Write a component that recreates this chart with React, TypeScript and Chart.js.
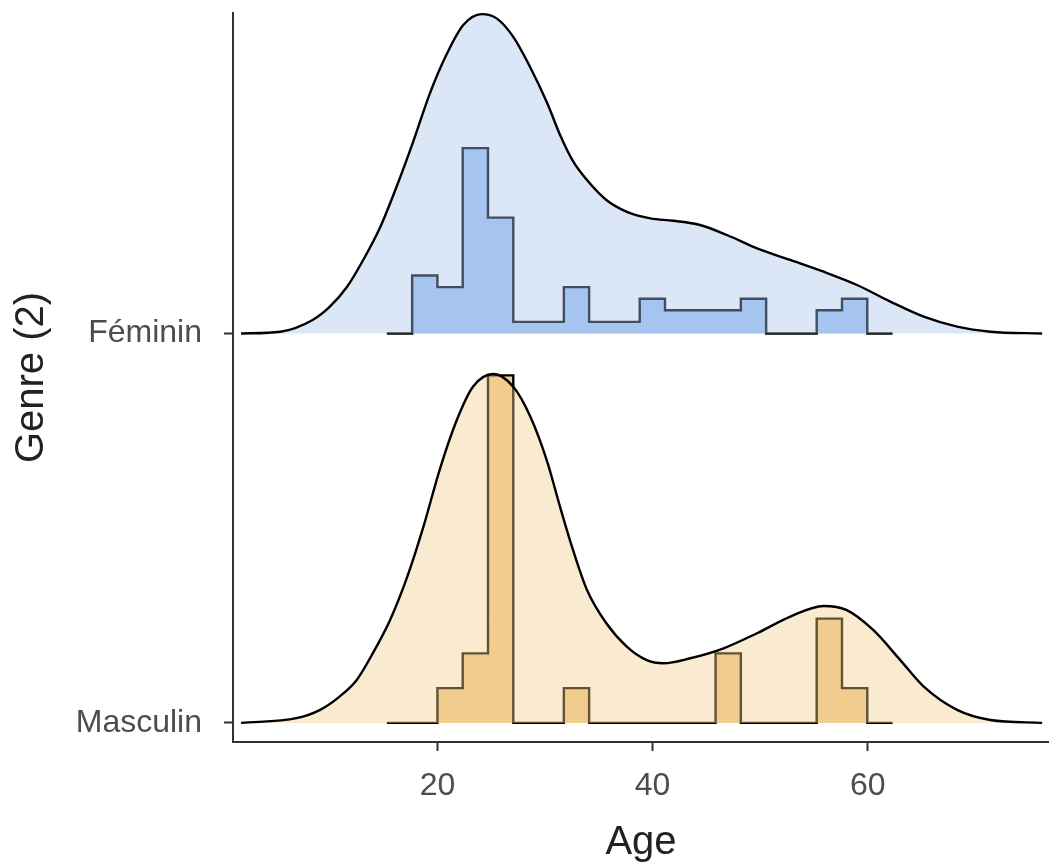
import React, { useEffect, useRef } from 'react';
import { Chart, registerables } from 'chart.js';

Chart.register(...registerables);

// Categories on the y axis (position 1 = Masculin, 2 = Féminin)
const groups = ['Masculin', 'Féminin'];

// Histogram bin edges (Age) shared by both groups
const binEdges = [15.3, 17.65, 20.0, 22.35, 24.7, 27.05, 29.4, 31.75, 34.1, 36.45, 38.8, 41.15, 43.5, 45.85, 48.2, 50.55, 52.9, 55.25, 57.6, 59.95, 62.3];

// Counts per bin
const femCounts = [0, 5, 4, 16, 10, 1, 1, 4, 1, 1, 3, 2, 2, 2, 3, 0, 0, 2, 3, 0];
const mascCounts = [0, 0, 1, 2, 10, 0, 0, 1, 0, 0, 0, 0, 0, 2, 0, 0, 0, 3, 1, 0];

// Kernel density estimates (Age, density)
const femDensX = [1.75, 5.4, 8.4, 10.0, 11.6, 13.1, 14.7, 16.2, 17.8, 19.3, 20.9, 22.4, 24.1, 25.5, 27.05, 28.6, 30.2, 31.4, 32.6, 33.9, 35.7, 37.6, 39.8, 41.9, 44.4, 46.9, 49.7, 52.8, 55.9, 59.0, 62.1, 65.2, 68.3, 71.4, 76.2];
const femDensY = [0, 0.0011, 0.0083, 0.0164, 0.0286, 0.045, 0.0654, 0.0898, 0.1184, 0.147, 0.1715, 0.1888, 0.1955, 0.1929, 0.1816, 0.1633, 0.1411, 0.1215, 0.1055, 0.0939, 0.0817, 0.0745, 0.0705, 0.069, 0.0664, 0.0603, 0.0521, 0.045, 0.0378, 0.0297, 0.0195, 0.0103, 0.0042, 0.0011, 0];

const mascDensX = [1.75, 6.9, 9.1, 10.9, 12.5, 14.0, 15.6, 17.2, 18.7, 20.2, 21.8, 23.3, 25.2, 27.05, 28.6, 30.2, 31.4, 32.6, 33.9, 35.7, 37.6, 39.4, 41.0, 43.5, 46.6, 49.7, 52.8, 55.9, 58.0, 60.5, 63.0, 65.2, 68.3, 71.4, 76.2];
const mascDensY = [0, 0.0029, 0.008, 0.0161, 0.0263, 0.0427, 0.063, 0.0895, 0.1201, 0.1548, 0.1854, 0.2058, 0.2136, 0.2058, 0.188, 0.16, 0.1322, 0.1059, 0.0814, 0.061, 0.0467, 0.0386, 0.0365, 0.0396, 0.0457, 0.0549, 0.0651, 0.0716, 0.0692, 0.0569, 0.0386, 0.0222, 0.008, 0.0018, 0];

const xTicks = [20, 40, 60];
const ridgeScale = 4.195; // y units per unit of density

const FONT = "'Liberation Sans', Arial, Helvetica, sans-serif";

function histPoints(counts: number[], base: number) {
  const n = counts.reduce((a, b) => a + b, 0);
  const pts = counts.map((c, i) => ({
    x: binEdges[i],
    y: base + (c / (n * (binEdges[i + 1] - binEdges[i]))) * ridgeScale,
  }));
  pts.push({ x: binEdges[binEdges.length - 1], y: base });
  return pts;
}

function densPoints(xs: number[], ds: number[], base: number) {
  return xs.map((x, i) => ({ x, y: base + ds[i] * ridgeScale }));
}

export default function App() {
  const ref = useRef<HTMLCanvasElement | null>(null);

  useEffect(() => {
    if (!ref.current) return;
    const densCommon = {
      cubicInterpolationMode: 'monotone',
      borderColor: '#000000',
      borderWidth: 2.4,
      pointRadius: 0,
      order: 1,
      clip: false,
    };
    const histCommon = {
      stepped: 'before',
      borderColor: '#000000',
      borderWidth: 2.4,
      borderJoinStyle: 'miter',
      borderCapStyle: 'butt',
      pointRadius: 0,
      order: 2,
      clip: false,
    };
    const chart = new Chart(ref.current, {
      type: 'line',
      data: {
        datasets: [
          {
            ...densCommon,
            data: densPoints(femDensX, femDensY, 2),
            fill: { value: 2 },
            backgroundColor: 'rgba(165,192,235,0.4)',
          } as any,
          {
            ...histCommon,
            data: histPoints(femCounts, 2),
            fill: { value: 2 },
            backgroundColor: '#a7c6f3',
          } as any,
          {
            ...densCommon,
            data: densPoints(mascDensX, mascDensY, 1),
            fill: { value: 1 },
            backgroundColor: 'rgba(240,202,138,0.4)',
          } as any,
          {
            ...histCommon,
            data: histPoints(mascCounts, 1),
            fill: { value: 1 },
            backgroundColor: '#f0cf8e',
          } as any,
        ],
      },
      options: {
        animation: false,
        responsive: false,
        devicePixelRatio: 1,
        layout: { padding: { top: 13, left: 0, right: 0, bottom: 0 } },
        plugins: { legend: { display: false }, tooltip: { enabled: false } },
        scales: {
          x: {
            type: 'linear',
            min: 1.0,
            max: 76.84,
            afterBuildTicks: (ax: any) => {
              ax.ticks = xTicks.map((v) => ({ value: v }));
            },
            afterFit: (ax: any) => {
              ax.height = 126;
              ax.paddingLeft = 0;
              ax.paddingRight = 0;
            },
            grid: {
              display: true,
              drawOnChartArea: false,
              drawTicks: true,
              tickLength: 9,
              tickColor: '#333333',
              tickWidth: 2,
              color: '#333333',
            },
            border: { display: true, color: '#333333', width: 2 },
            ticks: {
              color: '#4d4d4d',
              font: { size: 32, family: FONT },
              padding: 16,
              maxRotation: 0,
              autoSkip: false,
              callback: (v: any) => String(v),
            },
            title: {
              display: true,
              text: 'Age',
              color: '#222222',
              font: { size: 40, family: FONT },
              padding: { top: 0, bottom: 1 },
            },
          },
          y: {
            type: 'linear',
            min: 0.951,
            max: 2.823,
            afterBuildTicks: (ax: any) => {
              ax.ticks = [{ value: 1 }, { value: 2 }];
            },
            afterFit: (ax: any) => {
              ax.width = 233;
              ax.paddingTop = 0;
              ax.paddingBottom = 0;
            },
            grid: {
              display: true,
              drawOnChartArea: false,
              drawTicks: true,
              tickLength: 9,
              tickColor: '#333333',
              tickWidth: 2,
              color: '#333333',
            },
            border: { display: true, color: '#333333', width: 2 },
            ticks: {
              color: '#4d4d4d',
              font: { size: 32, family: FONT },
              padding: 22,
              autoSkip: false,
              callback: (v: any) => groups[Math.round(Number(v)) - 1] ?? '',
            },
            title: {
              display: true,
              text: 'Genre (2)',
              color: '#222222',
              font: { size: 40, family: FONT },
              padding: { top: 8, bottom: 0 },
            },
          },
        },
      } as any,
    });
    return () => chart.destroy();
  }, []);

  return (
    <div style={{ position: 'fixed', left: 0, top: 0, width: 1049, height: 868, background: '#ffffff' }}>
      <canvas ref={ref} width={1049} height={868} style={{ display: 'block' }} />
    </div>
  );
}
